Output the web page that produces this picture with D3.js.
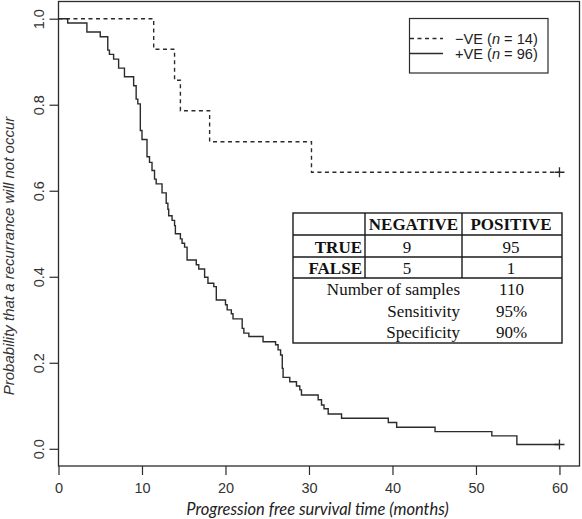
<!DOCTYPE html>
<html>
<head>
<meta charset="utf-8">
<script src="https://cdn.jsdelivr.net/npm/d3@7"></script>
<style>
  html, body { margin: 0; padding: 0; background: #fff; }
  svg { display: block; }
</style>
</head>
<body>
<svg id="chart" width="582" height="519"></svg>
<script>
// ---- data ----
const negTimes = [0, 11.4, 13.9, 14.6, 18.1, 30.3];
const negSurv  = [1.000, 0.929, 0.857, 0.786, 0.714, 0.643];

const posTimes = [0, 1.1, 3.4, 5.0, 5.9, 6.1, 6.6, 7.2, 7.9, 9.0, 9.3, 9.5, 9.8, 10.0,
  10.6, 10.9, 11.2, 11.5, 11.7, 12.4, 12.9, 13.1, 13.2, 13.6, 13.9, 14.0, 14.6, 14.8,
  15.1, 15.4, 16.5, 16.8, 17.5, 17.9, 18.6, 18.9, 20.0, 20.2, 20.7, 20.9, 22.0, 22.2,
  22.8, 24.5, 26.0, 26.3, 26.6, 26.8, 26.9, 27.7, 28.5, 28.9, 29.1, 31.1, 31.5, 31.8,
  32.3, 33.9, 39.5, 40.5, 45.1, 51.9, 54.9];
const posSurv = [1.000, 0.990, 0.969, 0.958, 0.927, 0.917, 0.906, 0.885, 0.865, 0.844, 0.813, 0.802, 0.740, 0.719,
  0.679, 0.666, 0.647, 0.627, 0.616, 0.595, 0.571, 0.557, 0.542, 0.531, 0.519, 0.500, 0.488, 0.478,
  0.469, 0.439, 0.428, 0.418, 0.399, 0.385, 0.377, 0.346, 0.335, 0.323, 0.314, 0.302, 0.280, 0.269,
  0.261, 0.249, 0.242, 0.230, 0.218, 0.187, 0.166, 0.156, 0.146, 0.137, 0.125, 0.114, 0.102, 0.093,
  0.081, 0.071, 0.061, 0.050, 0.040, 0.030, 0.010];
const endTime = 60;

const xTicks = [0, 10, 20, 30, 40, 50, 60];
const yTicks = [0, 0.2, 0.4, 0.6, 0.8, 1.0];

const legendLabels = [["−VE (", "n", " = 14)"], ["+VE (", "n", " = 96)"]];

const tableHeader = ["", "NEGATIVE", "POSITIVE"];
const tableRows = [["TRUE", "9", "95"], ["FALSE", "5", "1"]];
const summaryLabels = ["Number of samples", "Sensitivity", "Specificity"];
const summaryValues = ["110", "95%", "90%"];

const xTitle = "Progression free survival time (months)";
const yTitle = "Probability that a recurrance will not occur";

// ---- layout ----
const svg = d3.select("#chart");
const ink = "#2b2b2b";
const x = d3.scaleLinear().domain([0, 62.4]).range([58.5, 579.5]);
const y = d3.scaleLinear().domain([-0.04, 1.04]).range([466, 1.5]);

// x axis
const gx = svg.append("g").attr("transform", "translate(0,466)")
  .call(d3.axisBottom(x).tickValues(xTicks).tickSize(9).tickPadding(8).tickFormat(d3.format("d")));
gx.select(".domain").remove();
gx.selectAll("line").attr("stroke", ink).attr("stroke-width", 1.2);
gx.selectAll("text").attr("font-family", "Liberation Sans, Arial, sans-serif")
  .attr("font-size", 14.5).attr("fill", "#333");

// y axis
const gy = svg.append("g").attr("transform", "translate(58.5,0)")
  .call(d3.axisLeft(y).tickValues(yTicks).tickSize(9).tickFormat(d3.format(".1f")));
gy.select(".domain").remove();
gy.selectAll("line").attr("stroke", ink).attr("stroke-width", 1.2);
gy.selectAll("text")
  .attr("transform", "rotate(-90)")
  .attr("x", 0).attr("y", -15).attr("dy", 0)
  .attr("text-anchor", "middle")
  .attr("font-family", "Liberation Sans, Arial, sans-serif")
  .attr("font-size", 14.5).attr("fill", "#333");

// frame
svg.append("rect")
  .attr("x", x(0)).attr("y", y(1.04))
  .attr("width", x(62.4) - x(0)).attr("height", y(-0.04) - y(1.04))
  .attr("fill", "none").attr("stroke", ink).attr("stroke-width", 1.3);

// axis titles
svg.append("text")
  .attr("x", 317.5).attr("y", 514.5)
  .attr("text-anchor", "middle")
  .attr("font-family", "Lato, 'Open Sans', sans-serif")
  .attr("font-style", "italic").attr("font-size", 16.5).attr("fill", "#222")
  .text(xTitle);

svg.append("text")
  .attr("transform", "translate(13.5,256) rotate(-90)")
  .attr("text-anchor", "middle")
  .attr("font-family", "Liberation Sans, Arial, sans-serif")
  .attr("font-style", "italic").attr("font-size", 15).attr("fill", "#333")
  .text(yTitle);

// survival curves
const line = d3.line().x(d => x(d[0])).y(d => y(d[1])).curve(d3.curveStepAfter);
function series(times, surv) {
  const pts = times.map((t, i) => [t, surv[i]]);
  pts.push([endTime, surv[surv.length - 1]]);
  return pts;
}
const negPts = series(negTimes, negSurv);
const posPts = series(posTimes, posSurv);

svg.append("path").datum(negPts).attr("d", line)
  .attr("fill", "none").attr("stroke", ink).attr("stroke-width", 1.4)
  .attr("stroke-dasharray", "4,3.5");
svg.append("path").datum(posPts).attr("d", line)
  .attr("fill", "none").attr("stroke", ink).attr("stroke-width", 1.4);

// censor marks
[negPts[negPts.length - 1], posPts[posPts.length - 1]].forEach(p => {
  const cx = x(p[0]), cy = y(p[1]);
  svg.append("path")
    .attr("d", `M${cx - 5},${cy}H${cx + 5}M${cx},${cy - 5}V${cy + 5}`)
    .attr("stroke", ink).attr("stroke-width", 1.3);
});

// legend
const lg = svg.append("g");
lg.append("rect").attr("x", 409.5).attr("y", 18.5).attr("width", 138.5).attr("height", 54.5)
  .attr("fill", "#fff").attr("stroke", ink).attr("stroke-width", 1.2);
legendLabels.forEach((lab, i) => {
  const ly = 38.5 + i * 15;
  lg.append("line").attr("x1", 410).attr("x2", 443).attr("y1", ly).attr("y2", ly)
    .attr("stroke", ink).attr("stroke-width", 1.3)
    .attr("stroke-dasharray", i === 0 ? "4,3.5" : null);
  const t = lg.append("text").attr("x", 455).attr("y", ly + 5)
    .attr("font-family", "Liberation Sans, Arial, sans-serif")
    .attr("font-size", 14.6).attr("fill", "#222");
  t.append("tspan").text(lab[0]);
  t.append("tspan").attr("font-style", "italic").text(lab[1]);
  t.append("tspan").text(lab[2]);
});

// table
const tb = svg.append("g")
  .attr("font-family", "Liberation Serif, 'Times New Roman', serif")
  .attr("font-size", 17).attr("fill", "#111");
const tL = 293, tR = 562, tT = 213, tB = 343;
const c1 = 365, c2 = 462;
const rowLines = [235, 257, 278];
tb.append("rect").attr("x", tL).attr("y", tT).attr("width", tR - tL).attr("height", tB - tT)
  .attr("fill", "#fff").attr("stroke", "#1a1a1a").attr("stroke-width", 1.4);
rowLines.forEach(ry => tb.append("line").attr("x1", tL).attr("x2", tR).attr("y1", ry).attr("y2", ry)
  .attr("stroke", "#1a1a1a").attr("stroke-width", 1.4));
[c1, c2].forEach(cx => tb.append("line").attr("x1", cx).attr("x2", cx).attr("y1", tT).attr("y2", rowLines[2])
  .attr("stroke", "#1a1a1a").attr("stroke-width", 1.4));

tb.append("text").attr("x", 413.5).attr("y", 230).attr("text-anchor", "middle")
  .attr("font-weight", "bold").text(tableHeader[1]);
tb.append("text").attr("x", 511).attr("y", 230).attr("text-anchor", "middle")
  .attr("font-weight", "bold").text(tableHeader[2]);
tableRows.forEach((r, i) => {
  const by = 252.5 + i * 21.5;
  tb.append("text").attr("x", 362).attr("y", by).attr("text-anchor", "end")
    .attr("font-weight", "bold").text(r[0]);
  tb.append("text").attr("x", 407).attr("y", by).attr("text-anchor", "middle").text(r[1]);
  tb.append("text").attr("x", 511).attr("y", by).attr("text-anchor", "middle").text(r[2]);
});
summaryLabels.forEach((lab, i) => {
  const by = 295 + i * 21.5;
  tb.append("text").attr("x", 460).attr("y", by).attr("text-anchor", "end").text(lab);
  tb.append("text").attr("x", 511.5).attr("y", by).attr("text-anchor", "middle").text(summaryValues[i]);
});
</script>
</body>
</html>
